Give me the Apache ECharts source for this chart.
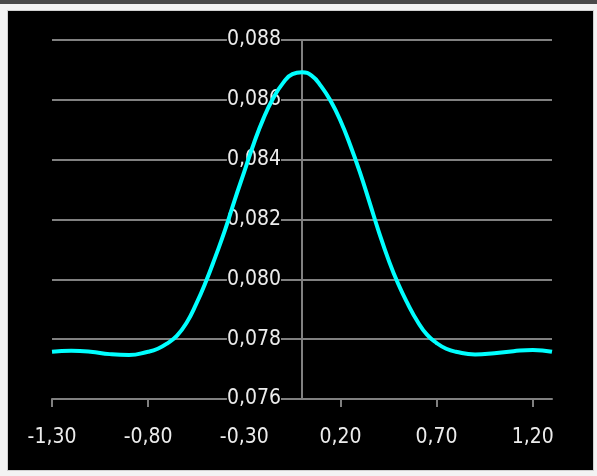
<!DOCTYPE html>
<html>
<head>
<meta charset="utf-8">
<script src="https://cdn.jsdelivr.net/npm/echarts@6/dist/echarts.min.js"></script>
<style>
  html, body { margin: 0; padding: 0; background: #f3f3f3; }
  #topband { position: absolute; left: 0; top: 0; width: 597px; height: 4px; background: #4a4a4a; }
  #frame { position: absolute; left: 8px; top: 11px; width: 585px; height: 459px; background: #000; box-shadow: 0 0 0 1px #d0d0d0; }
  #chart { position: absolute; left: 0; top: 0; width: 597px; height: 476px; }
</style>
</head>
<body>
<div id="topband"></div>
<div id="frame"></div>
<div id="chart"></div>
<script>
// Data
const xValues = [-1.3, -1.2, -1.1, -1.0, -0.9, -0.8, -0.75, -0.7, -0.65, -0.6, -0.55, -0.5, -0.45, -0.4, -0.35, -0.3, -0.25, -0.2, -0.15, -0.1, -0.05, 0.0,
                 0.05, 0.1, 0.15, 0.2, 0.25, 0.3, 0.35, 0.4, 0.45, 0.5, 0.55, 0.6, 0.65, 0.7, 0.75, 0.8, 0.9, 1.0, 1.1, 1.2, 1.3];
const yValues = [0.07758, 0.07761, 0.07758, 0.07750, 0.07747, 0.07758, 0.07768, 0.07786, 0.07812, 0.07855, 0.07918, 0.07992, 0.08076, 0.08165, 0.08265, 0.08360, 0.08455, 0.08538, 0.08605, 0.08655, 0.08686, 0.08692,
                 0.08681, 0.08645, 0.08595, 0.08530, 0.08450, 0.08360, 0.08260, 0.08158, 0.08065, 0.07985, 0.07918, 0.07860, 0.07815, 0.07787, 0.07768, 0.07758, 0.07749, 0.07753, 0.07760, 0.07764, 0.07758];
const xTickValues = [-1.3, -0.8, -0.3, 0.2, 0.7, 1.2];
const xMin = -1.3, xMax = 1.3;
const yMin = 0.076, yMax = 0.088, yStep = 0.002;

const seriesData = xValues.map((x, i) => [x, yValues[i]]);
const fontFam = "'DejaVu Sans Condensed', 'Liberation Sans', sans-serif";
const labelColor = '#ececec';
const gridColor = '#808080';

const chart = echarts.init(document.getElementById('chart'), null, { renderer: 'canvas' });
chart.setOption({
  backgroundColor: 'transparent',
  animation: false,
  grid: { left: 52, right: 45, top: 40, bottom: 77, containLabel: false, outerBoundsMode: 'none' },
  xAxis: {
    type: 'value',
    min: xMin,
    max: xMax,
    axisLine: { show: true, onZero: false, lineStyle: { color: gridColor, width: 2 } },
    axisTick: { show: true, length: 8, customValues: xTickValues, lineStyle: { color: gridColor, width: 2 } },
    axisLabel: {
      customValues: xTickValues,
      color: labelColor,
      fontFamily: fontFam,
      fontSize: 21,
      margin: 28,
      formatter: v => v.toFixed(2).replace('.', ',')
    },
    splitLine: { show: false }
  },
  yAxis: {
    type: 'value',
    min: yMin,
    max: yMax,
    interval: yStep,
    position: 'left',
    offset: -250,
    axisLine: { show: true, onZero: false, lineStyle: { color: gridColor, width: 2 } },
    axisTick: { show: false },
    axisLabel: {
      color: labelColor,
      fontFamily: fontFam,
      fontSize: 21,
      margin: 21,
      backgroundColor: '#000',
      formatter: v => v.toFixed(3).replace('.', ',')
    },
    splitLine: { show: true, lineStyle: { color: gridColor, width: 2 } }
  },
  series: [{
    type: 'line',
    data: seriesData,
    smooth: true,
    showSymbol: false,
    lineStyle: { color: '#00ffff', width: 4 },
    z: 5
  }]
});
</script>
</body>
</html>
